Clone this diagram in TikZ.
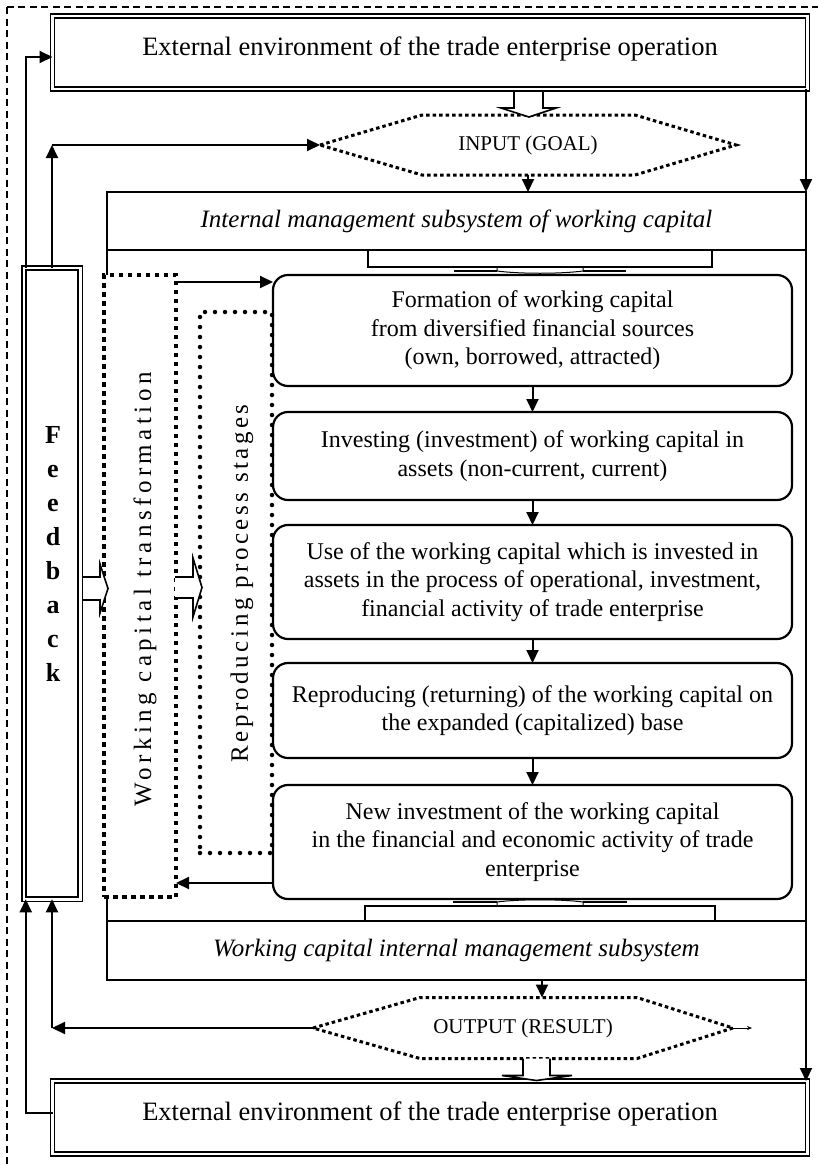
\documentclass[tikz,border=0pt]{standalone}
\usepackage{fontspec}
\setmainfont{Liberation Serif}
\newfontfamily\spacedfont[LetterSpace=18]{Liberation Serif}
\newfontfamily\spacedfontb[LetterSpace=14]{Liberation Serif}
\usetikzlibrary{arrows.meta, calc}

\begin{document}
\begin{tikzpicture}[x=1pt, y=-1pt,
    dbl/.style={draw, double, double distance=2.5pt, line width=1.6pt,
        inner sep=0pt, outer sep=0pt},
    envbox/.style={dbl, minimum width=755pt, minimum height=73pt,
        text height=18pt, text depth=13pt, font=\fontsize{26.5}{31}\selectfont},
    band/.style={draw, line width=1.6pt, minimum width=699pt, inner sep=0pt,
        outer sep=0pt, font=\fontsize{25}{30}\selectfont\itshape},
    stage/.style={draw, line width=2.2pt, rounded corners=15pt, minimum width=519pt,
        align=center, inner sep=0pt, outer sep=0pt,
        font=\fontsize{24}{28.5}\selectfont},
    hexlabel/.style={inner sep=0pt, outer sep=0pt, font=\fontsize{21}{25}\selectfont},
    hexdots/.style={line width=3pt, dash pattern=on 3.5pt off 3pt},
    sqdots/.style={draw, fill=white, line width=4pt, dash pattern=on 4.5pt off 4.5pt,
        inner sep=0pt, outer sep=0pt},
    rounddots/.style={draw, fill=white, line width=4.5pt, line cap=round,
        dash pattern=on 0pt off 10pt, inner sep=0pt, outer sep=0pt},
    vtext/.style={rotate=90, inner sep=0pt, font=\fontsize{25}{30}\selectfont},
    hollow/.style={draw, fill=white, line width=1.6pt, line join=miter},
    arr/.style={-{Triangle[length=13pt, width=12pt]}, line width=2pt},
    frame/.style={line width=1.5pt, dash pattern=on 7pt off 4.5pt}
]
\useasboundingbox (0,0) rectangle (818,1165);

% === Internal management subsystem ===
\node[draw, line width=1.6pt, minimum width=699pt, minimum height=788pt,
      inner sep=0pt, outer sep=0pt] (intbox) at (456.5,586) {};
\node[band, minimum height=58pt, anchor=north] (bandtop) at (intbox.north)
    {Internal management subsystem of working capital};
\node[band, minimum height=59pt, anchor=south] (bandbot) at (intbox.south)
    {Working capital internal management subsystem};

% brackets under / over the bands
\draw[line width=1.3pt] (368,250) -- (368,267) -- (712,267) -- (712,250);
\draw[line width=2.4pt] (454,271) -- (497,271) (583,271) -- (626,271);
\draw[line width=1pt] (497,267) -- (497,271) .. controls (520,274) and (560,274) .. (583,271) -- (583,267);
\draw[line width=1.3pt] (365,921) -- (365,906) -- (715,906) -- (715,921);
\draw[line width=2.4pt] (453,902) -- (497,902) (583,902) -- (627,902);
\draw[line width=1pt] (497,906) -- (497,902) .. controls (520,899) and (560,899) .. (583,902) -- (583,906);

% === Dotted side columns ===
\node[sqdots, minimum width=72pt, minimum height=622pt] (wct) at (140,586) {};
\node[vtext, font=\fontsize{25}{30}\spacedfont] (wcttext) at (145,589.5)
    {Working capital transformation};
\node[rounddots, minimum width=72pt, minimum height=541pt] (repr) at (236,582.5) {};
\node[vtext, font=\fontsize{25}{30}\spacedfontb] (reprtext) at (242,583.5)
    {Reproducing process stages};

% === Feedback ===
\node[dbl, minimum width=56.5pt, minimum height=631.5pt] (fb) at (52,583.5) {};
\node[font=\fontsize{26}{34}\selectfont\bfseries, align=center, inner sep=0pt]
    (fbtext) at (53,554) {F\\e\\e\\d\\b\\a\\c\\k};

% === Stages ===
\node[stage, minimum height=111pt] (s1) at (532.5,330.5)
    {Formation of working capital\\from diversified financial sources\\(own, borrowed, attracted)};
\node[stage, minimum height=88pt] (s2) at (532.5,456)
    {Investing (investment) of working capital in\\assets (non-current, current)};
\node[stage, minimum height=114pt] (s3) at (532.5,582)
    {Use of the working capital which is invested in\\assets in the process of operational, investment,\\financial activity of trade enterprise};
\node[stage, minimum height=95pt] (s4) at (532.5,710.5)
    {Reproducing (returning) of the working capital on\\the expanded (capitalized) base};
\node[stage, minimum height=114pt] (s5) at (532.5,842)
    {New investment of the working capital\\in the financial and economic activity of trade\\enterprise};

\foreach \a/\b in {s1/s2, s2/s3, s3/s4, s4/s5}
    \draw[arr] (\a) -- (\b);

\coordinate (fwd) at ($(wct.north east)+(0,7)$);
\draw[arr] (fwd) -- (fwd -| s1.west);
\coordinate (back) at ($(s5.west)+(0,41)$);
\draw[arr] (back) -- (back -| wct.east);

% === External environment ===
\node[envbox] (topenv) at (430,52.5)
    {External environment of the trade enterprise operation};
\node[envbox] (botenv) at (430,1117.5)
    {External environment of the trade enterprise operation};

% === Input / output ===
\node[hexlabel, minimum width=416pt, minimum height=60pt] (inhex) at (528,145) {INPUT (GOAL)};
\draw[hexdots] (inhex.west) -- ($(inhex.north west)+(102,0)$) -- ($(inhex.north east)+(-101,0)$)
    -- (inhex.east) -- ($(inhex.south east)+(-101,0)$) -- ($(inhex.south west)+(102,0)$) -- cycle;
\node[hexlabel, minimum width=420pt, minimum height=61pt] (outhex) at (523,1028) {OUTPUT (RESULT)};
\draw[hexdots] (outhex.west) -- ($(outhex.north west)+(107,0)$) -- ($(outhex.north east)+(-96,0)$)
    -- (outhex.east) -- ($(outhex.south east)+(-96,0)$) -- ($(outhex.south west)+(107,0)$) -- cycle;
\draw[-{Stealth[length=5pt, width=4pt]}, line width=0.6pt] (outhex.east) -- ++(19,0);

% === Hollow arrows ===
\draw[hollow] ($(inhex.north)+(-14,-23)$) -- ($(inhex.north)+(-14,-7)$) -- ($(inhex.north)+(-27,-7)$)
    -- ($(inhex.north)+(1,2)$) -- ($(inhex.north)+(28,-7)$) -- ($(inhex.north)+(15,-7)$) -- ($(inhex.north)+(15,-23)$);
\draw[hollow] (outhex.south) -- ($(outhex.south)+(0,17)$) -- ($(outhex.south)+(-21,17)$)
    -- ($(outhex.south)+(13.5,22)$) -- ($(outhex.south)+(49,17)$) -- ($(outhex.south)+(27,17)$) -- ($(outhex.south)+(27,0)$);
\draw[hollow] ($(wct.west)+(-21,-9)$) -- ($(wct.west)+(-4,-9)$) -- ($(wct.west)+(-4,-22)$)
    -- ($(wct.west)+(4,2.5)$) -- ($(wct.west)+(-4,27)$) -- ($(wct.west)+(-4,14)$) -- ($(wct.west)+(-21,14)$);
\draw[hollow] ($(repr.west)+(-25,-5.5)$) -- ($(repr.west)+(-7,-5.5)$) -- ($(repr.west)+(-7,-24.5)$)
    -- ($(repr.west)+(2,5)$) -- ($(repr.west)+(-7,34.5)$) -- ($(repr.west)+(-7,15.5)$) -- ($(repr.west)+(-25,15.5)$);

% === Connectors ===
\draw[arr] (inhex.south) -- (inhex.south |- intbox.north);
\coordinate (outtop) at ($(outhex.north)+(19,0)$);
\draw[arr] (outtop |- bandbot.south) -- (outtop);
\draw[arr] (intbox.north east |- topenv.south) -- (intbox.north east);
\draw[arr] (intbox.south east) -- (intbox.south east |- botenv.north);

\draw[arr] ($(fb.north west)+(2,0)$) |- ($(topenv.west)+(0,4.5)$);
\coordinate (fbup) at (fb.north |- inhex.west);
\draw[arr] (fb.north) -- (fbup);
\draw[arr] (fbup) -- (inhex.west);
\coordinate (fbdown) at (fb.south |- outhex.west);
\draw[arr] (outhex.west) -- (fbdown);
\draw[arr] (fbdown) -- (fb.south);
\draw[arr] ($(botenv.west)+(0,-5)$) -| ($(fb.south west)+(2,0)$);

% === Outer dashed frame ===
\begin{scope}
\clip (0,0) rectangle (818,1165);
\draw[frame] (7,7) rectangle (840,1190);
\end{scope}

\end{tikzpicture}
\end{document}
